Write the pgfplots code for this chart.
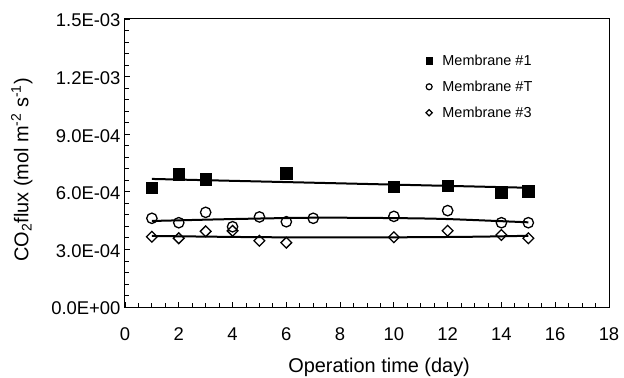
\documentclass[border=0pt]{standalone}
\usepackage{fontspec}
\setmainfont{Liberation Sans}
\usepackage{pgfplots}
\pgfplotsset{compat=1.18}
\begin{document}
\begin{tikzpicture}
\useasboundingbox (-125bp,-71bp) rectangle (499bp,307bp);
\begin{axis}[
  at={(0,0)}, anchor=south west,
  scale only axis, width=484bp, height=288bp,
  xmin=0, xmax=18, ymin=0, ymax=1.5e-3,
  xtick={0,2,...,18}, minor x tick num=3,
  ytick={0,3e-4,6e-4,9e-4,1.2e-3,1.5e-3},
  yticklabels={0.0E+00,3.0E-04,6.0E-04,9.0E-04,1.2E-03,1.5E-03},
  minor y tick num=4,
  scaled y ticks=false,
  tick align=inside, xtick pos=bottom, ytick pos=left,
  major tick length=5bp, minor tick length=4bp,
  axis line style={line width=1bp},
  every tick/.style={black, line width=0.8bp},
  /pgf/number format/assume math mode=true,
  tick label style={font=\fontsize{18.5}{21}\selectfont},
  xticklabel style={yshift=-17bp},
  yticklabel style={xshift=-1bp, yshift=-1.5bp},
  xlabel={Operation time (day)},
  ylabel={CO\textsubscript{2}flux (mol m\textsuperscript{-2} s\textsuperscript{-1})},
  label style={font=\fontsize{20}{22}\selectfont},
  xlabel style={at={(axis description cs:0.525,-0.228)}, anchor=base},
  ylabel style={at={(axis description cs:-0.213,0.476)}, anchor=center, rotate=0},
  legend style={draw=none, fill=none, at={(rel axis cs:0.615,0.89)}, anchor=north west,
    font=\fontsize{14.5}{16}\selectfont, row sep=10bp,
    /tikz/every odd column/.append style={column sep=8bp}},
  legend cell align=left,
]
% fitted lines
\addplot[black, line width=2bp, forget plot] coordinates {(1,6.67e-4) (15,6.21e-4)};
\addplot[black, line width=2bp, smooth, forget plot] coordinates {(1,4.48e-4) (4,4.58e-4) (7,4.65e-4) (10,4.63e-4) (12,4.58e-4) (15,4.41e-4)};
\addplot[black, line width=2bp, smooth, forget plot] coordinates {(1,3.70e-4) (4,3.65e-4) (6,3.63e-4) (10,3.63e-4) (13,3.66e-4) (15,3.71e-4)};
% data
\addplot[only marks, mark=square*, mark size=5.8bp, black, forget plot] coordinates {
 (1,6.21e-4) (2,6.93e-4) (3,6.65e-4) (6,6.96e-4) (10,6.27e-4) (12,6.32e-4) (14,5.97e-4) (15,6.02e-4)};
\addplot[only marks, mark=o, mark size=5.2bp, black, line width=1.3bp, forget plot] coordinates {
 (1,4.62e-4) (2,4.39e-4) (3,4.93e-4) (4,4.18e-4) (5,4.69e-4) (6,4.44e-4) (7,4.62e-4) (10,4.72e-4) (12,5.02e-4) (14,4.39e-4) (15,4.39e-4)};
\addplot[only marks, mark=square, mark size=3.8bp, every mark/.append style={rotate=45}, black, line width=1.3bp, forget plot] coordinates {
 (1,3.66e-4) (2,3.58e-4) (3,3.94e-4) (4,3.97e-4) (5,3.45e-4) (6,3.35e-4) (10,3.63e-4) (12,3.97e-4) (14,3.75e-4) (15,3.58e-4)};
\addlegendimage{only marks, mark=square*, mark size=3.3bp, black}
\addlegendentry{Membrane \#1}
\addlegendimage{only marks, mark=o, mark size=3bp, black, line width=1.2bp}
\addlegendentry{Membrane \#T}
\addlegendimage{only marks, mark=square, mark size=2.2bp, every mark/.append style={rotate=45}, black, line width=1.2bp}
\addlegendentry{Membrane \#3}
\end{axis}
\end{tikzpicture}
\end{document}
